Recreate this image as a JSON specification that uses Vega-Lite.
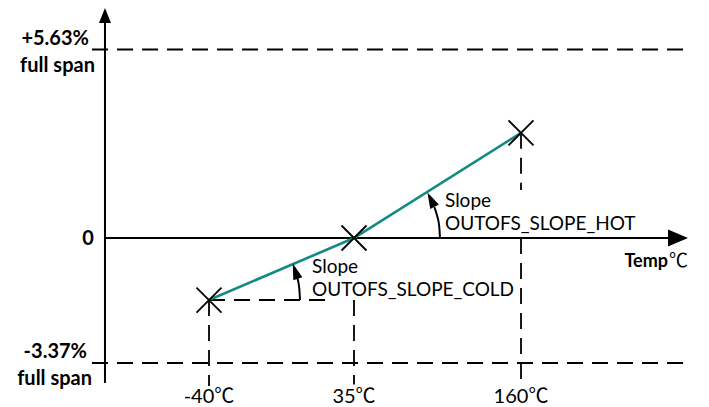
{
  "$schema": "https://vega.github.io/schema/vega-lite/v6.json",
  "width": 709,
  "height": 407,
  "padding": 0,
  "autosize": {"type": "none"},
  "background": "white",
  "config": {"view": {"stroke": null}},
  "datasets": {
    "lines": [
      {"kind": "dash", "id": "d1", "i": 0, "T": -100.5, "v": 5.63},
      {"kind": "dash", "id": "d1", "i": 1, "T": 288, "v": 5.63},
      {"kind": "dash", "id": "d2", "i": 0, "T": -100.5, "v": -3.37},
      {"kind": "dash", "id": "d2", "i": 1, "T": 288, "v": -3.37},
      {"kind": "dash", "id": "d3", "i": 0, "T": -40, "v": -1.672},
      {"kind": "dash", "id": "d3", "i": 1, "T": -40, "v": -3.99},
      {"kind": "dash", "id": "d4", "i": 0, "T": 35, "v": -1.672},
      {"kind": "dash", "id": "d4", "i": 1, "T": 35, "v": -3.95},
      {"kind": "dash", "id": "d5", "i": 0, "T": 160, "v": 3.14},
      {"kind": "dash", "id": "d5", "i": 1, "T": 160, "v": 1.434},
      {"kind": "dash", "id": "d6", "i": 0, "T": 160, "v": 0},
      {"kind": "dash", "id": "d6", "i": 1, "T": 160, "v": -3.95},
      {"kind": "dash", "id": "d7", "i": 0, "T": -40, "v": -1.672},
      {"kind": "dash", "id": "d7", "i": 1, "T": 22.6, "v": -1.672},
      {"kind": "axis", "id": "a1", "i": 0, "T": -93.8, "v": -3.909},
      {"kind": "axis", "id": "a1", "i": 1, "T": -93.8, "v": 6.42},
      {"kind": "axis", "id": "a2", "i": 0, "T": -93.8, "v": 0},
      {"kind": "axis", "id": "a2", "i": 1, "T": 270, "v": 0},
      {"kind": "curve", "id": "c1", "i": 0, "T": 7.08, "v": -1.672},
      {"kind": "curve", "id": "c1", "i": 1, "T": 6.71, "v": -1.372},
      {"kind": "curve", "id": "c1", "i": 2, "T": 5.68, "v": -1.078},
      {"kind": "curve", "id": "c2", "i": 0, "T": 99.37, "v": 0},
      {"kind": "curve", "id": "c2", "i": 1, "T": 98.77, "v": 0.358},
      {"kind": "curve", "id": "c2", "i": 2, "T": 97.2, "v": 0.666},
      {"kind": "curve", "id": "c2", "i": 3, "T": 95.1, "v": 0.92},
      {"kind": "teal", "id": "t1", "i": 0, "T": -40, "v": -1.672},
      {"kind": "teal", "id": "t1", "i": 1, "T": 35, "v": 0},
      {"kind": "teal", "id": "t1", "i": 2, "T": 160, "v": 3.14}
    ],
    "marks": [
      {"kind": "yarrow", "T": -93.8, "v": 6.646},
      {"kind": "xarrow", "T": 277.5, "v": 0},
      {"kind": "coldhead", "T": 4.65, "v": -0.892},
      {"kind": "hothead", "T": 92.63, "v": 1.147},
      {"kind": "cross", "T": -40, "v": -1.672},
      {"kind": "cross", "T": 35, "v": 0},
      {"kind": "cross", "T": 160, "v": 3.14}
    ],
    "labels": [
      {"kind": "ylab", "T": -102.1, "v": 5.764, "text": "+5.63%"},
      {"kind": "ylab", "T": -99.0, "v": 4.967, "text": "full span"},
      {"kind": "ylab", "T": -99.5, "v": -0.189, "text": "0"},
      {"kind": "ylab", "T": -103.1, "v": -3.235, "text": "-3.37%"},
      {"kind": "ylab", "T": -100.5, "v": -3.963, "text": "full span"},
      {"kind": "xlab", "T": -40, "v": -4.448, "text": "-40℃"},
      {"kind": "xlab", "T": 35, "v": -4.448, "text": "35℃"},
      {"kind": "xlab", "T": 160, "v": -4.448, "text": "160℃"},
      {"kind": "slope", "T": 13.29, "v": -0.944, "text": "Slope"},
      {"kind": "slope", "T": 13.29, "v": -1.564, "text": "OUTOFS_SLOPE_COLD"},
      {"kind": "slope", "T": 103.1, "v": 0.926, "text": "Slope"},
      {"kind": "slope", "T": 103.1, "v": 0.239, "text": "OUTOFS_SLOPE_HOT"},
      {"kind": "tempb", "T": 270.0, "v": -0.782, "text": "Temp"},
      {"kind": "tempc", "T": 270.8, "v": -0.782, "text": "℃"}
    ]
  },
  "encoding": {
    "x": {"field": "T", "type": "quantitative", "axis": null,
      "scale": {"type": "linear", "domain": [-148.1, -40, 35, 160, 300.7], "range": [0, 209, 354, 521, 709], "nice": false, "zero": false}},
    "y": {"field": "v", "type": "quantitative", "axis": null,
      "scale": {"type": "linear", "domain": [-4.556, -3.37, 0, 5.63, 7.108], "range": [407, 363, 238, 49.5, 0], "nice": false, "zero": false}}
  },
  "layer": [
    {"data": {"name": "lines"}, "transform": [{"filter": "datum.kind === 'dash'"}],
     "mark": {"type": "line", "color": "black", "strokeWidth": 1.8, "strokeDash": [16, 9], "strokeCap": "butt"},
     "encoding": {"detail": {"field": "id"}, "order": {"field": "i"}}},
    {"data": {"name": "lines"}, "transform": [{"filter": "datum.kind === 'axis'"}],
     "mark": {"type": "line", "color": "black", "strokeWidth": 2},
     "encoding": {"detail": {"field": "id"}, "order": {"field": "i"}}},
    {"data": {"name": "lines"}, "transform": [{"filter": "datum.kind === 'curve'"}],
     "mark": {"type": "line", "color": "black", "strokeWidth": 2, "interpolate": "monotone"},
     "encoding": {"detail": {"field": "id"}, "order": {"field": "i"}}},
    {"data": {"name": "lines"}, "transform": [{"filter": "datum.kind === 'teal'"}],
     "mark": {"type": "line", "color": "#138a82", "strokeWidth": 2.6},
     "encoding": {"detail": {"field": "id"}, "order": {"field": "i"}}},
    {"data": {"name": "marks"}, "transform": [{"filter": "datum.kind === 'yarrow'"}],
     "mark": {"type": "point", "shape": "M0,-1L0.8,1L-0.8,1Z", "size": 225, "filled": true, "color": "black", "opacity": 1}},
    {"data": {"name": "marks"}, "transform": [{"filter": "datum.kind === 'xarrow'"}],
     "mark": {"type": "point", "shape": "M1,0L-1,0.85L-1,-0.85Z", "size": 400, "filled": true, "color": "black", "opacity": 1}},
    {"data": {"name": "marks"}, "transform": [{"filter": "datum.kind === 'coldhead'"}],
     "mark": {"type": "point", "shape": "M0,-1L0.6,1L-0.6,1Z", "size": 256, "angle": 341.5, "filled": true, "color": "black", "opacity": 1}},
    {"data": {"name": "marks"}, "transform": [{"filter": "datum.kind === 'hothead'"}],
     "mark": {"type": "point", "shape": "M0,-1L0.6,1L-0.6,1Z", "size": 256, "angle": 333.5, "filled": true, "color": "black", "opacity": 1}},
    {"data": {"name": "marks"}, "transform": [{"filter": "datum.kind === 'cross'"}],
     "mark": {"type": "point", "shape": "M-1,-1L1,1M-1,1L1,-1", "size": 625, "filled": false, "color": "black", "strokeWidth": 1.8, "opacity": 1}},
    {"data": {"name": "labels"}, "transform": [{"filter": "datum.kind === 'ylab'"}],
     "mark": {"type": "text", "align": "right", "baseline": "alphabetic", "font": "Lato", "fontWeight": "bold", "fontSize": 20, "color": "black"},
     "encoding": {"text": {"field": "text"}}},
    {"data": {"name": "labels"}, "transform": [{"filter": "datum.kind === 'xlab'"}],
     "mark": {"type": "text", "align": "center", "baseline": "alphabetic", "font": "Lato, Noto Sans CJK SC", "fontSize": 20, "color": "black"},
     "encoding": {"text": {"field": "text"}}},
    {"data": {"name": "labels"}, "transform": [{"filter": "datum.kind === 'slope'"}],
     "mark": {"type": "text", "align": "left", "baseline": "alphabetic", "font": "Lato", "fontSize": 19, "color": "black"},
     "encoding": {"text": {"field": "text"}}},
    {"data": {"name": "labels"}, "transform": [{"filter": "datum.kind === 'tempb'"}],
     "mark": {"type": "text", "align": "right", "baseline": "alphabetic", "font": "Lato", "fontWeight": "bold", "fontSize": 18, "color": "black"},
     "encoding": {"text": {"field": "text"}}},
    {"data": {"name": "labels"}, "transform": [{"filter": "datum.kind === 'tempc'"}],
     "mark": {"type": "text", "align": "left", "baseline": "alphabetic", "font": "Noto Sans CJK SC", "fontSize": 19, "color": "black"},
     "encoding": {"text": {"field": "text"}}}
  ]
}
